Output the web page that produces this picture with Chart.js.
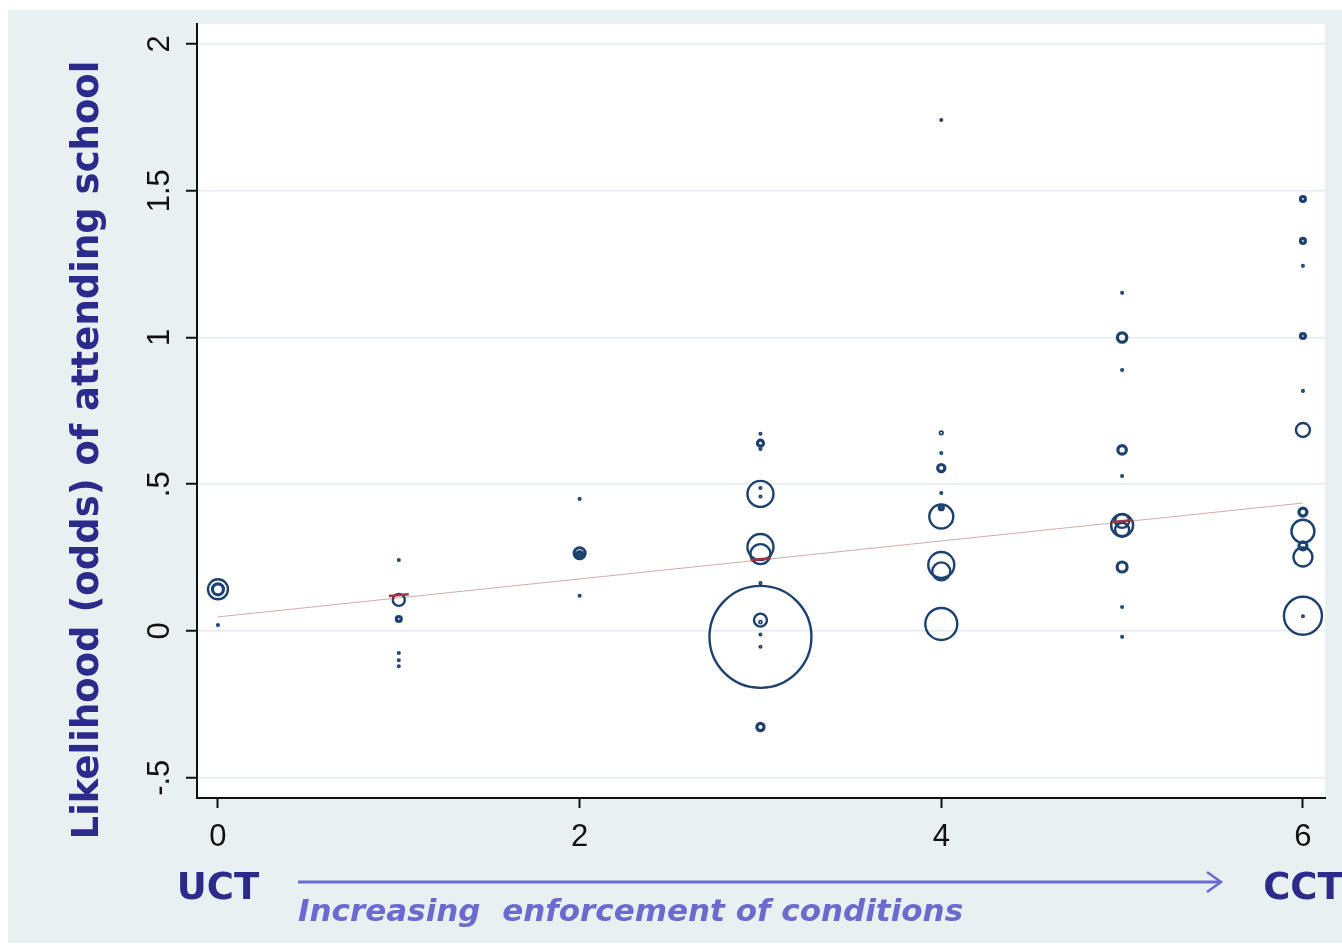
<!DOCTYPE html>
<html>
<head>
<meta charset="utf-8">
<script src="https://cdn.jsdelivr.net/npm/chart.js@4.4.1/dist/chart.umd.min.js"></script>
<style>
  html, body { margin: 0; padding: 0; background: #ffffff; overflow: hidden; }
  canvas { display: block; }
</style>
</head>
<body>
<canvas id="chart" width="1342" height="947"></canvas>
<script>
// Enforcement level of schooling conditions for each programme estimate (0 = UCT ... 6 = CCT)
const enforcement = [
  0, 0, 0,
  1, 1, 1, 1, 1, 1,
  2, 2, 2, 2, 2,
  3, 3, 3, 3, 3, 3, 3, 3, 3, 3, 3, 3, 3, 3, 3,
  4, 4, 4, 4, 4, 4, 4, 4, 4, 4,
  5, 5, 5, 5, 5, 5, 5, 5, 5, 5, 5,
  6, 6, 6, 6, 6, 6, 6, 6, 6, 6, 6, 6
];
// Estimated effect on the odds of attending school
const odds = [
  0.142, 0.142, 0.020,
  0.242, 0.106, 0.041, -0.075, -0.100, -0.120,
  0.450, 0.265, 0.258, 0.262, 0.120,
  0.672, 0.640, 0.620, 0.467, 0.487, 0.458, 0.286, 0.262, 0.163, 0.037, 0.030, -0.012, -0.054, -0.020, -0.327,
  1.741, 0.675, 0.606, 0.555, 0.470, 0.420, 0.390, 0.225, 0.203, 0.024,
  1.152, 1.000, 0.889, 0.617, 0.528, 0.360, 0.375, 0.345, 0.218, 0.082, -0.020,
  1.472, 1.329, 1.244, 1.005, 0.818, 0.685, 0.405, 0.340, 0.290, 0.252, 0.052, 0.050
];
// Analytic weight of each estimate (marker area is proportional to it)
const weights = [
  100, 30, 1.4,
  1.4, 36, 6, 1.4, 1.4, 1.4,
  1.4, 30, 12, 4, 1.4,
  1.4, 9, 1.4, 169, 1.4, 1.4, 169, 100, 1.4, 42, 2.2, 1.4, 1.4, 2600, 13,
  1.4, 3.2, 1.4, 13, 1.4, 4, 144, 169, 81, 256,
  1.4, 22, 1.4, 18, 1.4, 121, 49, 49, 25, 1.4, 1.4,
  6, 6, 1.4, 6, 1.4, 49, 16, 132, 16, 90, 361, 1.4
];

// Weighted linear fit of odds on enforcement
const fitX = [0, 6];
const fitY = [0.048, 0.436];

// Fitted values highlighted at levels 1, 3 and 5
const meanX = [1, 3, 5];
const meanY = [0.122, 0.245, 0.374];

// Axis ticks and their labels
const xTicks = [0, 2, 4, 6];
const xTickLabels = ['0', '2', '4', '6'];
const yTicks = [-0.5, 0, 0.5, 1, 1.5, 2];
const yTickLabels = ['-.5', '0', '.5', '1', '1.5', '2'];

const yTitle = 'Likelihood (odds) of attending school';
const leftEndLabel = 'UCT';
const rightEndLabel = 'CCT';
const arrowCaption = 'Increasing  enforcement of conditions';

// ---- styling ----
const W = 1342, H = 947;
const PANEL = '#e9f0f2';
const NAVY = '#1d426f';
const TITLE_BLUE = '#2c2b8c';
const ARROW_BLUE = '#6a6acf';
const FIT_RED = '#a3363f';
const MARKER_SCALE = 1;
const TICK_FONT = '"Liberation Sans", Arial, sans-serif';
const TEXT_FONT = '"DejaVu Sans", Verdana, sans-serif';

const backgroundPlugin = {
  id: 'panelBackground',
  beforeDraw(chart) {
    const { ctx, chartArea: a } = chart;
    ctx.save();
    ctx.fillStyle = '#ffffff';
    ctx.fillRect(0, 0, W, H);
    ctx.fillStyle = PANEL;
    ctx.fillRect(8, 10, W - 8, H - 14);
    ctx.fillStyle = '#ffffff';
    ctx.fillRect(a.left, a.top, a.right - a.left, a.bottom - a.top);
    ctx.restore();
  }
};

const annotationPlugin = {
  id: 'axisAnnotations',
  afterDraw(chart) {
    const { ctx } = chart;
    const xs = chart.scales.x, ys = chart.scales.y;
    ctx.save();

    // rotated y tick labels
    ctx.fillStyle = '#111111';
    ctx.font = '31px ' + TICK_FONT;
    ctx.textAlign = 'center';
    ctx.textBaseline = 'middle';
    yTicks.forEach((v, i) => {
      const py = ys.getPixelForValue(v);
      ctx.save();
      ctx.translate(160, py);
      ctx.rotate(-Math.PI / 2);
      ctx.fillText(yTickLabels[i], 0, 0);
      ctx.restore();
    });

    // y axis title
    ctx.save();
    ctx.fillStyle = TITLE_BLUE;
    ctx.font = 'bold 37px ' + TEXT_FONT;
    ctx.translate(88, 450);
    ctx.rotate(-Math.PI / 2);
    ctx.fillText(yTitle, 0, 0);
    ctx.restore();

    // end labels under the x axis
    ctx.fillStyle = TITLE_BLUE;
    ctx.font = 'bold 37px ' + TEXT_FONT;
    ctx.textBaseline = 'alphabetic';
    ctx.textAlign = 'center';
    ctx.fillText(leftEndLabel, xs.getPixelForValue(xTicks[0]), 899);
    ctx.fillText(rightEndLabel, xs.getPixelForValue(xTicks[xTicks.length - 1]), 899);

    // direction arrow
    ctx.strokeStyle = ARROW_BLUE;
    ctx.lineWidth = 3;
    ctx.beginPath();
    ctx.moveTo(298, 882);
    ctx.lineTo(1221, 882);
    ctx.stroke();
    ctx.lineWidth = 2.5;
    ctx.beginPath();
    ctx.moveTo(1207, 872);
    ctx.lineTo(1221, 882);
    ctx.lineTo(1207, 892);
    ctx.stroke();

    // arrow caption
    ctx.fillStyle = ARROW_BLUE;
    ctx.font = 'italic bold 31px ' + TEXT_FONT;
    ctx.textAlign = 'left';
    ctx.fillText(arrowCaption, 298, 921);

    ctx.restore();
  }
};

const bubbleData = enforcement.map((x, i) => ({
  x: x,
  y: odds[i],
  r: Math.sqrt(weights[i]) * MARKER_SCALE
}));

new Chart(document.getElementById('chart'), {
  data: {
    datasets: [
      {
        type: 'line',
        data: fitX.map((x, i) => ({ x: x, y: fitY[i] })),
        borderColor: 'rgba(150, 40, 50, 0.4)',
        borderWidth: 1,
        pointRadius: 0,
        fill: false
      },
      {
        type: 'scatter',
        data: meanX.map((x, i) => ({ x: x, y: meanY[i] })),
        pointStyle: 'line',
        pointRadius: 10,
        pointBorderWidth: 2.5,
        pointBorderColor: FIT_RED,
        pointBackgroundColor: FIT_RED,
        pointRotation: -5
      },
      {
        type: 'bubble',
        data: bubbleData,
        backgroundColor: 'rgba(0,0,0,0)',
        borderColor: NAVY,
        borderWidth: (c) => {
          const r = c.raw ? c.raw.r : 10;
          if (r < 2) return 1.7;
          if (r < 5.9) return 3.2;
          return 2.4;
        }
      }
    ]
  },
  options: {
    responsive: false,
    devicePixelRatio: 1,
    animation: false,
    events: [],
    layout: { autoPadding: false, padding: { left: 0, top: 24, right: 17, bottom: 0 } },
    plugins: {
      legend: { display: false },
      tooltip: { enabled: false }
    },
    scales: {
      x: {
        type: 'linear',
        min: -0.116,
        max: 6.122,
        afterBuildTicks: (s) => { s.ticks = xTicks.map((v) => ({ value: v })); },
        afterFit: (s) => { s.height = 149; },
        ticks: {
          autoSkip: false,
          maxRotation: 0,
          padding: 11,
          color: '#111111',
          font: { family: TICK_FONT, size: 31 },
          callback: (v) => xTickLabels[xTicks.indexOf(v)]
        },
        grid: {
          drawOnChartArea: false,
          drawTicks: true,
          tickLength: 10,
          tickColor: '#111111',
          tickWidth: 2
        },
        border: { color: '#111111', width: 2 }
      },
      y: {
        type: 'linear',
        min: -0.569,
        max: 2.068,
        afterBuildTicks: (s) => { s.ticks = yTicks.map((v) => ({ value: v })); },
        afterFit: (s) => { s.width = 197; },
        ticks: { display: false },
        grid: {
          color: '#e2ecef',
          lineWidth: 1.5,
          drawTicks: true,
          tickLength: 11,
          tickColor: '#111111',
          tickWidth: 2
        },
        border: { color: '#111111', width: 2 }
      }
    }
  },
  plugins: [backgroundPlugin, annotationPlugin]
});
</script>
</body>
</html>
